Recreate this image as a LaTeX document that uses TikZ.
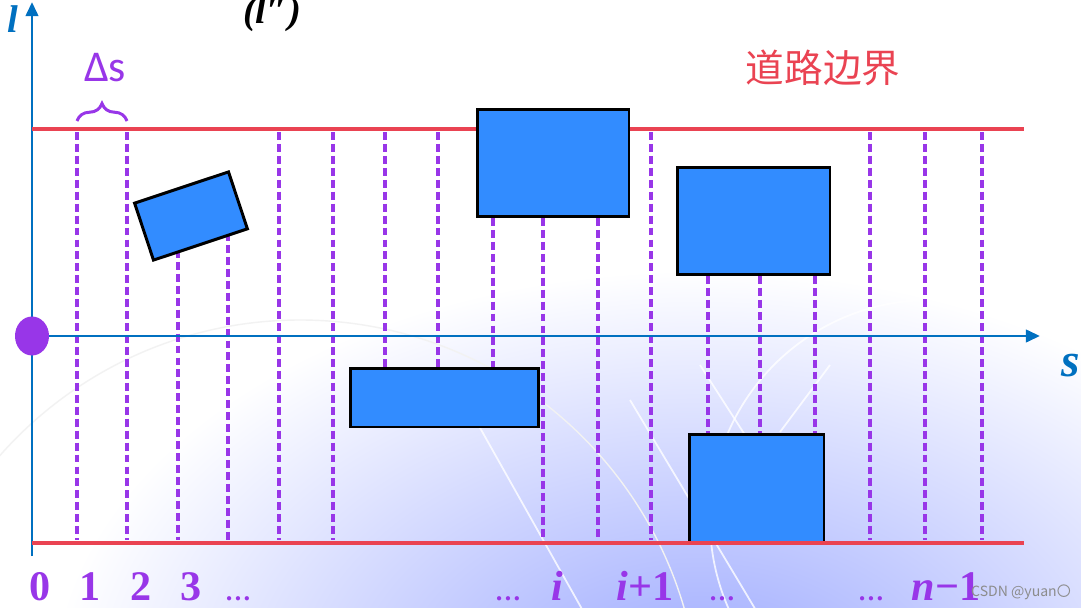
\documentclass[tikz,border=0pt]{standalone}
\usepackage{fontspec}
\setmainfont{Liberation Serif}
\newfontfamily\cjk{Noto Sans CJK SC}
\newfontfamily\calib{Carlito}
\usetikzlibrary{arrows.meta, positioning, decorations.pathreplacing}

\definecolor{axisblue}{RGB}{0,112,192}
\definecolor{roadred}{RGB}{234,67,82}
\definecolor{slicepurple}{RGB}{152,54,232}
\definecolor{carblue}{RGB}{50,140,255}
\definecolor{bgblue}{RGB}{155,168,255}

\begin{document}
\begin{tikzpicture}[x=0.02cm, y=-0.02cm]

    \tikzstyle{obstacle} = [draw=black, fill=carblue, line width=1.7pt, inner sep=0pt]
    \tikzstyle{slice} = [draw=slicepurple, line width=1.8pt, dash pattern=on 4.5pt off 2.3pt]
    \tikzstyle{road} = [draw=roadred, line width=2.2pt]
    \tikzstyle{axis} = [draw=axisblue, line width=1.7pt, -{Triangle[length=8pt, width=7pt]}]
    \tikzstyle{idx} = [text=slicepurple, anchor=base, font=\fontsize{24}{28}\selectfont\bfseries]
    \tikzstyle{dots} = [text=slicepurple, anchor=base, font=\fontsize{15}{16}\selectfont\bfseries]
    \tikzstyle{deco} = [white, line width=1pt, opacity=0.8]

    % Background
    \useasboundingbox (0,0) rectangle (1081,608);
    \fill[white] (0,0) rectangle (1081,608);
    \begin{scope}
        \clip (0,0) rectangle (1081,608);
        \shade[inner color=bgblue, outer color=white] (700,690) ellipse (650 and 420);
        \draw[black!5, line width=0.8pt] (300,720) circle (400);
        \draw[deco] (930,520) circle (220);
        \draw[deco] (470,410) -- (587,618);
        \draw[deco] (630,400) -- (760,617);
        \draw[deco] (700,365) -- (745,435);
        \draw[deco] (780,432) -- (830,365);
    \end{scope}

    % Slices
    \foreach \x in {77,127,279,333,651,870,925,982}
        \draw[slice] (\x,132) -- (\x,540);
    \foreach \x in {385,438}
        \draw[slice] (\x,132) -- (\x,367);
    \draw[slice] (493,218) -- (493,367);
    \foreach \x in {543,598}
        \draw[slice] (\x,218) -- (\x,540);
    \foreach \x in {708,760,815}
        \draw[slice] (\x,276) -- (\x,433);
    \draw[slice] (178,250) -- (178,540);
    \draw[slice] (228,233) -- (228,540);

    % Axes
    \draw[axis] (32,556) -- (32,2);
    \draw[axis] (32,336) -- (1040,336);
    \fill[slicepurple] (32,336) ellipse (17 and 19.5);

    % Upper road boundary
    \draw[road] (32,129) -- (1024,129);

    % Obstacles
    \node[obstacle, rotate=18.4, minimum width=1.98cm, minimum height=1.2cm] (car1) at (191,216) {};
    \node[obstacle, minimum width=3.04cm, minimum height=2.16cm] (car2) at (553,163) {};
    \node[obstacle, minimum width=3.06cm, minimum height=2.16cm] (car3) at (753.5,221) {};
    \node[obstacle, minimum width=2.7cm, minimum height=2.16cm] (car4) at (756.5,488) {};
    \node[obstacle, minimum width=3.78cm, minimum height=1.18cm] (car5) at (444.5,397.5) {};

    % Lower road boundary
    \draw[road] (32,543) -- (1024,543);

    % Labels
    \node[text=axisblue, anchor=base, font=\fontsize{22}{26}\selectfont\bfseries\itshape] (llab) at (13,33) {l};
    \node[text=axisblue, anchor=base, font=\fontsize{27}{30}\selectfont\bfseries\itshape] (slab) at (1071,376) {s};
    \node[text=black, anchor=base, font=\fontsize{22}{26}\selectfont\bfseries\itshape] (lpp) at (272,24) {(l″)};
    \node[text=slicepurple, font=\calib\fontsize{25}{28}\selectfont] (ds) at (105,68) {Δs};
    \draw[slicepurple, line width=1.7pt, decorate, decoration={brace, amplitude=10pt}]
        (77,121) -- (127,121);
    \node[text=roadred, font=\cjk\fontsize{22}{24}\selectfont] (roadlab) at (823,68) {道路边界};

    % Slice indices
    \node[idx] (n0) at (40,600) {0};
    \node[idx] (n1) at (90,600) {1};
    \node[idx] (n2) at (141,600) {2};
    \node[idx] (n3) at (191,600) {3};
    \node[dots] (d1) at (238,600) {…};
    \node[dots] (d2) at (508,600) {…};
    \node[idx] (ni) at (557,600) {\itshape i};
    \node[idx] (nip) at (645,600) {{\itshape i}+1};
    \node[dots] (d3) at (722,600) {…};
    \node[dots] (d4) at (871,600) {…};
    \node[idx] (nn) at (946,600) {{\itshape n}−1};

    % Watermark
    \node[text=white!55!black, font=\cjk\fontsize{8}{9}\selectfont] (mark) at (1021,592) {CSDN @yuan〇};

\end{tikzpicture}
\end{document}
